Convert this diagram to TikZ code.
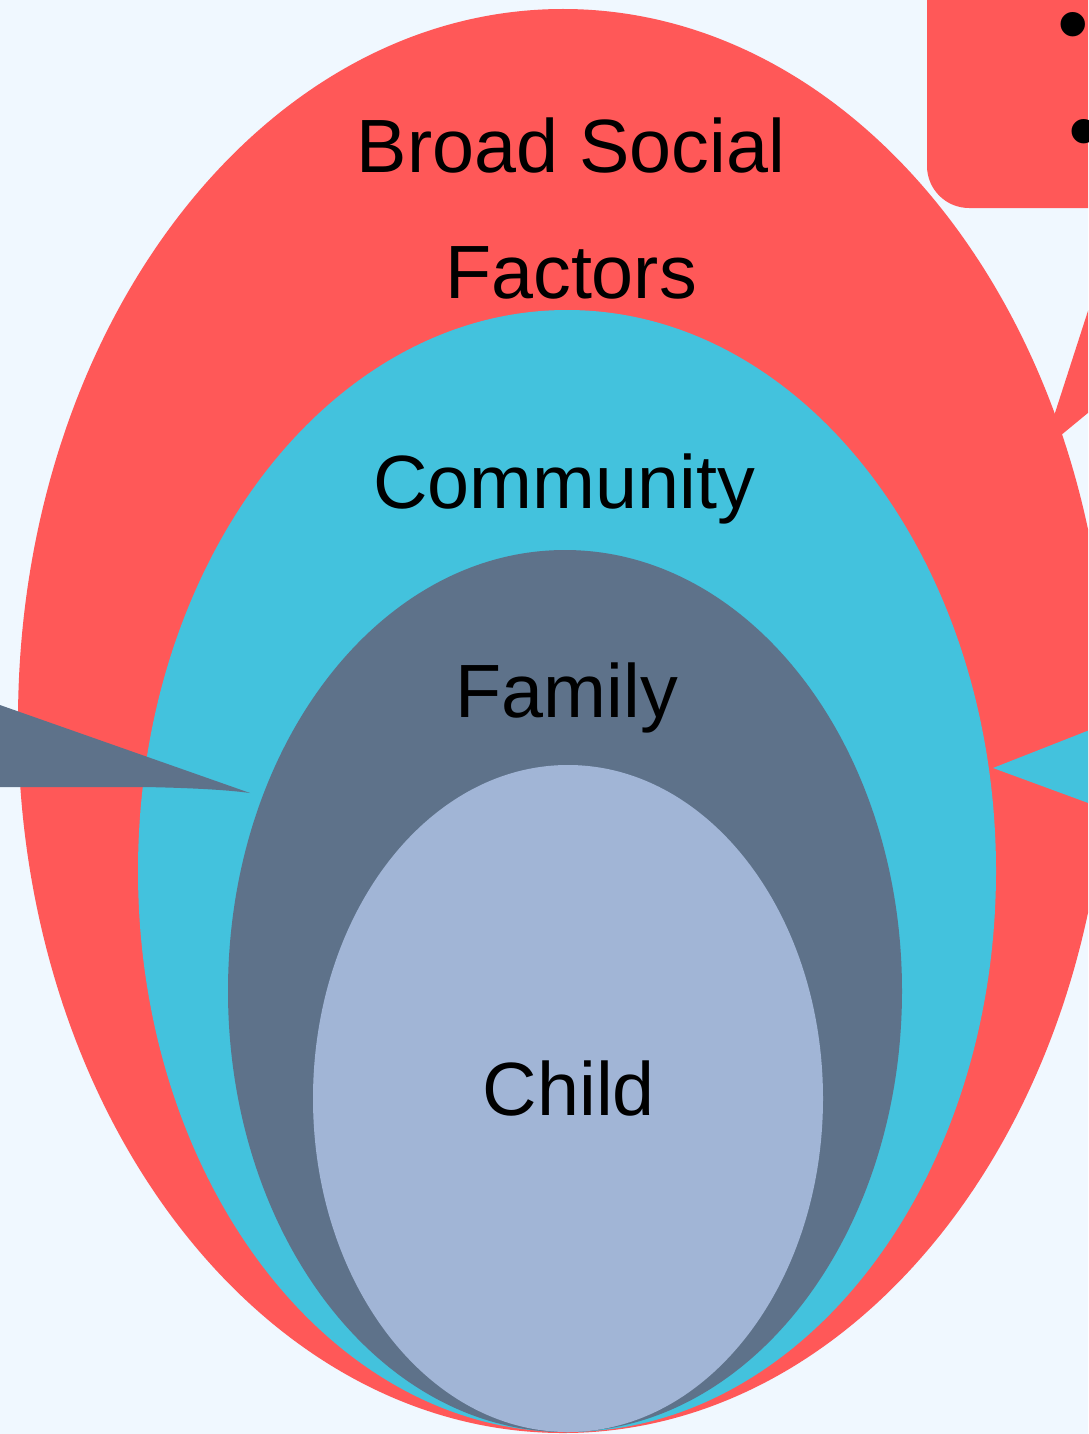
\documentclass[tikz,border=0pt]{standalone}
\usepackage{fontspec}
\setmainfont{Liberation Sans}
\usetikzlibrary{shapes.geometric}
\definecolor{bgc}{HTML}{F0F8FF}
\definecolor{redc}{HTML}{FF5858}
\definecolor{cyanc}{HTML}{43C2DD}
\definecolor{slatec}{HTML}{5E728A}
\definecolor{lightc}{HTML}{A1B5D6}
\tikzset{
  layer/.style={ellipse, inner sep=0pt, outer sep=0pt, draw=none},
  lbl/.style={anchor=base, inner sep=0pt, font=\fontsize{75.5}{90}\selectfont, text=black},
  bul/.style={anchor=base, inner sep=0pt, font=\fontsize{90}{100}\selectfont, text=black}
}
\begin{document}
\begin{tikzpicture}[x=1pt,y=-1pt]
\useasboundingbox (0,0) rectangle (1088,1434);
\fill[bgc] (0,0) rectangle (1088,1434);
\clip (0,0) rectangle (1088,1434);
% top-right box and tail
\fill[redc, rounded corners=42pt] (927,-80) rectangle (1200,208);
\coordinate (tailA) at (1140,150);
\coordinate (tailTip) at (1043,450);
\coordinate (tailB) at (1140,370);
\fill[redc] (tailA) -- (tailTip) -- (tailB) -- cycle;
\node[bul] (b1) at (1073,55) {•};
\node[bul] (b2) at (1084,162) {•};
% layers
\node[layer, fill=redc, minimum width=1090pt, minimum height=1424pt] (broad) at (563,721) {};
\node[layer, fill=cyanc, minimum width=858pt, minimum height=1122pt] (comm) at (567,871) {};
\node[layer, fill=slatec, minimum width=674pt, minimum height=882pt] (fam) at (565,991) {};
\node[layer, fill=lightc, minimum width=510pt, minimum height=667pt] (child) at (568,1098.5) {};
% left callout
\coordinate (lA) at (-20,698);
\coordinate (lTip) at (250,793);
\coordinate (lB) at (-20,787);
\fill[slatec] (lA) -- (lTip) .. controls (228,790) and (195,788) .. (145,787) -- (lB) -- cycle;
% right callout
\coordinate (rA) at (1110,722);
\coordinate (rTip) at (993,768);
\coordinate (rB) at (1110,811);
\fill[cyanc] (rA) -- (rTip) -- (rB) -- cycle;
% labels
\node[lbl] (t1) at (571,173) {Broad Social};
\node[lbl] (t2) at (571,298) {Factors};
\node[lbl] (t3) at (564,508) {Community};
\node[lbl] (t4) at (567,717) {Family};
\node[lbl] (t5) at (569,1115) {Child};
\end{tikzpicture}
\end{document}
